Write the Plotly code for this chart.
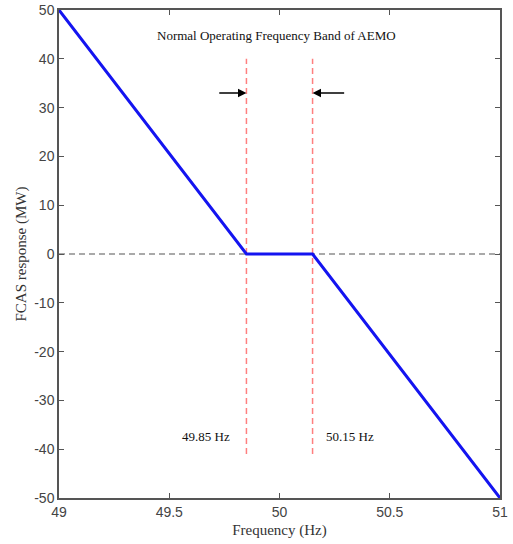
import plotly.graph_objects as go

# Data
freq = [49.0, 49.85, 50.15, 51.0]
fcas = [50, 0, 0, -50]
band_edges = [49.85, 50.15]
band_line_y = [-41, 40]
x_ticks = [49, 49.5, 50, 50.5, 51]
y_ticks = [-50, -40, -30, -20, -10, 0, 10, 20, 30, 40, 50]
edge_labels = ["49.85 Hz", "50.15 Hz"]
title_text = "Normal Operating Frequency Band of AEMO"

fig = go.Figure()

# zero reference dashed line
fig.add_trace(go.Scatter(x=[x_ticks[0], x_ticks[-1]], y=[0, 0], mode="lines",
                         line=dict(color="#555555", width=1.2, dash="6px,4px"),
                         showlegend=False, hoverinfo="skip"))

# band edge red dashed lines
for xe in band_edges:
    fig.add_trace(go.Scatter(x=[xe, xe], y=band_line_y, mode="lines",
                             line=dict(color="#ff7f7f", width=1.5, dash="6px,4px"),
                             showlegend=False, hoverinfo="skip"))

# main FCAS response line
fig.add_trace(go.Scatter(x=freq, y=fcas, mode="lines",
                         line=dict(color="#1414f0", width=3),
                         showlegend=False))

serif = "Liberation Serif, Times New Roman, serif"

# arrows
fig.add_annotation(x=band_edges[0], y=33, ax=49.72, ay=33, xref="x", yref="y",
                   axref="x", ayref="y", showarrow=True, arrowhead=2,
                   arrowsize=1.2, arrowwidth=1.4, arrowcolor="black", text="")
fig.add_annotation(x=band_edges[1], y=33, ax=50.30, ay=33, xref="x", yref="y",
                   axref="x", ayref="y", showarrow=True, arrowhead=2,
                   arrowsize=1.2, arrowwidth=1.4, arrowcolor="black", text="")

# texts
fig.add_annotation(x=49.985, y=44.7, text=title_text, showarrow=False,
                   font=dict(family=serif, size=13, color="#111111"))
fig.add_annotation(x=49.665, y=-37.3, text=edge_labels[0], showarrow=False,
                   font=dict(family=serif, size=13, color="#111111"))
fig.add_annotation(x=50.32, y=-37.3, text=edge_labels[1], showarrow=False,
                   font=dict(family=serif, size=13, color="#111111"))

axis_common = dict(showline=True, linecolor="#555555", linewidth=1.5, mirror="ticks",
                   ticks="inside", ticklen=5, tickcolor="#555555", showgrid=False,
                   zeroline=False, automargin=False,
                   tickfont=dict(family="Liberation Sans, Arial, sans-serif", size=14, color="#444444"))

fig.update_layout(
    width=513, height=544,
    margin=dict(l=59, r=13, t=10, b=46),
    paper_bgcolor="white", plot_bgcolor="white",
    xaxis=dict(range=[49, 51], tickvals=x_ticks, ticktext=[str(v) for v in x_ticks],
               title=dict(text="Frequency (Hz)", font=dict(family=serif, size=15, color="#333333"),
                          standoff=6), **axis_common),
    yaxis=dict(range=[-50, 50], tickvals=y_ticks, ticktext=[str(v) for v in y_ticks],
               title=dict(text="FCAS response (MW)", font=dict(family=serif, size=15, color="#333333"),
                          standoff=4), **axis_common),
)

fig.write_html("out.html")
